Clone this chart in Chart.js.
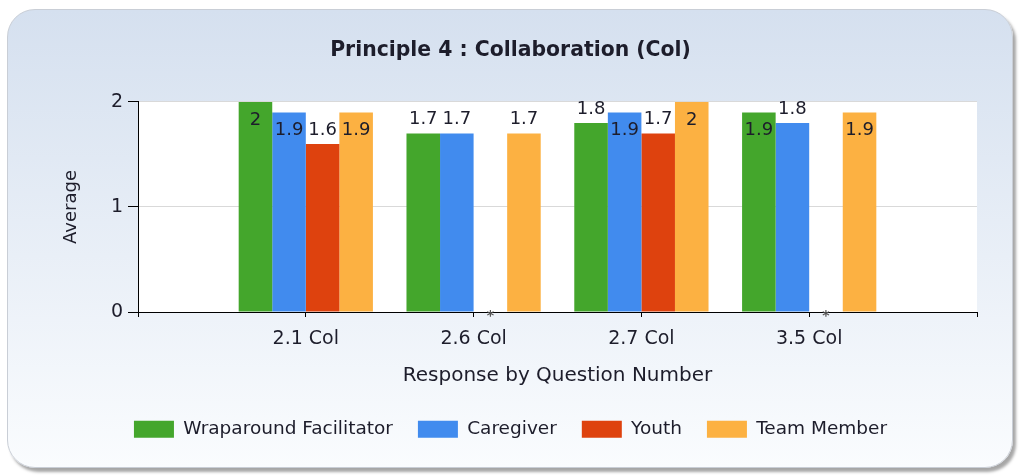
<!DOCTYPE html>
<html><head><meta charset="utf-8">
<script src="https://cdn.jsdelivr.net/npm/chart.js@4.4.1/dist/chart.umd.min.js"></script>
<style>
html,body{margin:0;padding:0;background:#fff;width:1021px;height:475px;overflow:hidden;}
#panel{position:absolute;left:7px;top:9px;width:1004px;height:457px;border-radius:28px;background:linear-gradient(#d5e0ef,#fafcfe);border:1px solid #c9ced6;box-shadow:3px 4px 3px rgba(0,0,0,0.35);}
#wrap{position:absolute;left:0;top:0;width:1021px;height:475px;}
</style></head><body>
<div id="panel"></div>
<div id="wrap"><canvas id="c" width="1021" height="475"></canvas></div>
<script>
const chartTitle = 'Principle 4 : Collaboration (Col)';
const categories = ['2.1 Col', '2.6 Col', '2.7 Col', '3.5 Col'];
const seriesNames = ['Wraparound Facilitator', 'Caregiver', 'Youth', 'Team Member'];
const wraparoundFacilitator = [2, 1.7, 1.8, 1.9];
const caregiver = [1.9, 1.7, 1.9, 1.8];
const youth = [1.6, null, 1.7, null];
const teamMember = [1.9, 1.7, 2, 1.9];
const yTicks = [0, 1, 2];

const FONT = "'DejaVu Sans', sans-serif";
const TEXT = '#1d1d2b';
const colors = ['#44a62c', '#418bee', '#de420e', '#fcb142'];
const seriesValues = [wraparoundFacilitator, caregiver, youth, teamMember];

// pad one empty slot on each side so the axis spans 0..5
const labels = [''].concat(categories, ['']);
const datasets = seriesValues.map((vals, i) => ({
  label: seriesNames[i],
  data: [null].concat(vals, [null]),
  backgroundColor: colors[i],
  borderWidth: 0,
  categoryPercentage: 0.8,
  barPercentage: 1.0
}));

const plotBg = {
  id: 'plotBg',
  beforeDraw(chart) {
    const {ctx, chartArea: a} = chart;
    ctx.save();
    ctx.fillStyle = '#ffffff';
    ctx.fillRect(a.left, a.top, a.right - a.left, a.bottom - a.top);
    ctx.restore();
  }
};

const valueLabels = {
  id: 'valueLabels',
  afterDatasetsDraw(chart) {
    const {ctx, chartArea: a} = chart;
    ctx.save();
    ctx.textAlign = 'center';
    ctx.textBaseline = 'alphabetic';
    chart.data.datasets.forEach((ds, di) => {
      const meta = chart.getDatasetMeta(di);
      meta.data.forEach((el, idx) => {
        if (idx === 0 || idx === labels.length - 1) return;
        const v = ds.data[idx];
        if (v === null || v === undefined) {
          ctx.fillStyle = '#555';
          ctx.font = 'bold 14px ' + FONT;
          ctx.fillText('*', el.x, a.bottom + 8);
          return;
        }
        ctx.fillStyle = TEXT;
        ctx.font = '18px ' + FONT;
        const txt = String(v);
        if (el.y - 20 < a.top) {
          ctx.fillText(txt, el.x, el.y + 23);
        } else {
          ctx.fillText(txt, el.x, el.y - 9);
        }
      });
    });
    ctx.restore();
  }
};

new Chart(document.getElementById('c'), {
  type: 'bar',
  data: { labels, datasets },
  plugins: [plotBg, valueLabels],
  options: {
    responsive: false,
    animation: false,
    devicePixelRatio: 1,
    layout: { padding: { left: 0, right: 0, top: 0, bottom: 26.5 } },
    plugins: {
      title: {
        display: true,
        text: chartTitle,
        color: TEXT,
        font: { family: FONT, size: 20.4, weight: 'bold' },
        padding: { top: 38, bottom: 39.5 }
      },
      legend: {
        position: 'bottom',
        labels: {
          boxWidth: 40, boxHeight: 17, padding: 25,
          color: TEXT,
          font: { family: FONT, size: 18.5 }
        }
      },
      tooltip: { enabled: false }
    },
    scales: {
      x: {
        type: 'category',
        offset: false,
        grid: { offset: false, drawOnChartArea: false, tickLength: 5, color: '#000', tickColor: '#000' },
        border: { color: '#000', width: 1 },
        ticks: { font: { family: FONT, size: 19 }, color: TEXT, padding: 11, autoSkip: false, maxRotation: 0 },
        title: { display: true, text: 'Response by Question Number', color: TEXT,
                 font: { family: FONT, size: 20 }, padding: { top: 7, bottom: 7 } },
        afterFit(s) { s.height = 83; }
      },
      y: {
        min: 0, max: 2,
        afterBuildTicks(s) { s.ticks = yTicks.map(v => ({ value: v })); },
        grid: { color: '#d9d9d9', tickColor: '#000', tickLength: 10 },
        border: { color: '#000', width: 1 },
        ticks: { font: { family: FONT, size: 19 }, color: TEXT, padding: 5 },
        title: { display: true, text: 'Average', color: TEXT,
                 font: { family: FONT, size: 18 }, padding: { top: 61, bottom: 0 } },
        afterFit(s) { s.width = 138; }
      },
      yRight: {
        position: 'right',
        display: true,
        grid: { display: false },
        border: { display: false },
        ticks: { display: false },
        afterFit(s) { s.width = 44; }
      }
    }
  }
});
</script>
</body></html>
